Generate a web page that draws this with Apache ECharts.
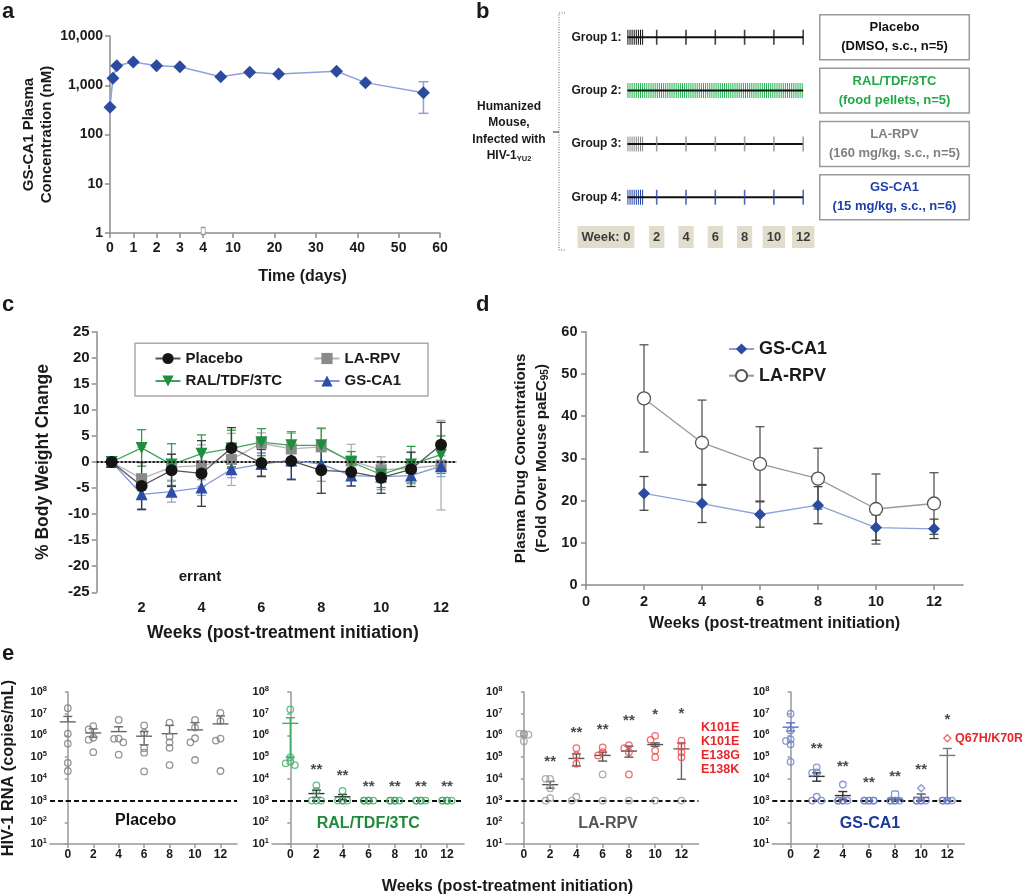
<!DOCTYPE html>
<html><head><meta charset="utf-8">
<script src="https://cdn.jsdelivr.net/npm/echarts@6/dist/echarts.min.js"></script>
<style>html,body{margin:0;padding:0;background:#fff}#c{width:1022px;height:895px}</style>
</head><body><div id="c"></div><script>
// ================= DATA =================
// ---- panel a : GS-CA1 plasma PK (log scale, broken x axis)
const aDays = [0, 0.125, 0.29, 1, 2, 3, 7, 14, 21, 35, 42, 56];
const aConc = [357, 1380, 2490, 2965, 2490, 2380, 1490, 1830, 1690, 1920, 1130, 706];
const aErrDays = [56];
const aErrLow = [269];
const aErrHigh = [1180];
const aXTickLabels = [0, 1, 2, 3, 4, 10, 20, 30, 40, 50, 60];
const aYTickLabels = [1, 10, 100, 1000, 10000];

// ---- panel b : study design
const bGroups = ['Group 1:', 'Group 2:', 'Group 3:', 'Group 4:'];
const bTreatments = [
  ['Placebo', '(DMSO, s.c., n=5)'],
  ['RAL/TDF/3TC', '(food pellets, n=5)'],
  ['LA-RPV', '(160 mg/kg, s.c., n=5)'],
  ['GS-CA1', '(15 mg/kg, s.c., n=6)']
];
const bLoadingWeeks = [0, 1.1];
const bPelletWeeks = [0, 12];
const bTimelineWeeks = [0, 12];
const bInjectionWeeks = [2, 4, 6, 8, 10, 12];
const bWeekTicks = [0, 2, 4, 6, 8, 10, 12];
const bWeekLabels = ['Week: 0', '2', '4', '6', '8', '10', '12'];

// ---- panel c : % body weight change
const cWeeks = [1, 2, 3, 4, 5, 6, 7, 8, 9, 10, 11, 12];
const cPlacebo    = [0, -4.6, -1.6, -2.2, 2.7, -0.2, 0.2, -1.6, -1.9, -3.0, -1.4, 3.3];
const cPlaceboErr = [0, 4.5, 3.1, 6.3, 3.9, 2.6, 3.6, 4.4, 2.7, 3.0, 3.3, 4.3];
const cRal        = [0, 2.7, -0.5, 1.6, 2.6, 3.8, 3.2, 3.2, 0.0, -2.4, -0.5, 1.4];
const cRalErr     = [0, 3.5, 4.0, 3.6, 3.5, 2.6, 2.6, 3.3, 2.0, 2.5, 3.5, 3.6];
const cLaRpv      = [0, -3.2, -1.0, -0.7, 0.5, 3.6, 2.5, 2.9, 0.2, -1.5, -1.2, -0.6];
const cLaRpvErr   = [0, 6.0, 2.5, 4.0, 5.0, 2.0, 3.0, 3.5, 3.2, 2.5, 3.0, 8.6];
const cGsCa1      = [0, -6.2, -5.7, -4.9, -1.4, -0.4, 0.3, -0.4, -2.6, -2.8, -2.6, -0.8];
const cGsCa1Err   = [0, 2.8, 2.0, 1.5, 1.6, 2.2, 3.5, 3.3, 2.0, 2.5, 1.5, 2.0];
const cXTicks = [2, 4, 6, 8, 10, 12];

// ---- panel d : plasma drug concentrations (fold over paEC95)
const dWeeks = [2, 4, 6, 8, 10, 12];
const dGsCa1    = [21.7, 19.3, 16.7, 18.9, 13.6, 13.3];
const dGsCa1Err = [4.0, 4.5, 3.0, 4.4, 3.0, 2.3];
const dLaRpv    = [44.2, 33.7, 28.7, 25.2, 18.0, 19.3];
const dLaRpvErr = [12.7, 10.1, 8.8, 7.2, 8.3, 7.3];
const dXTicks = [0, 2, 4, 6, 8, 10, 12];

// ---- panel e : HIV-1 RNA (copies/mL)
const eWeeks = [0, 2, 4, 6, 8, 10, 12];
const eLimit = 1000;
const ePlaceboPts = [
  [1.8e7, 1.2e6, 4.2e5, 5.5e4, 2.3e4],
  [2.7e6, 1.9e6, 7.8e5, 6.4e5, 1.7e5],
  [5.2e6, 7.2e5, 7.0e5, 4.8e5, 1.3e5],
  [2.9e6, 1.3e6, 2.6e5, 1.6e5, 2.2e4],
  [3.9e6, 9.0e5, 4.8e5, 2.7e5, 4.3e4],
  [5.2e6, 2.3e6, 7.4e5, 4.8e5, 7.4e4],
  [1.1e7, 4.6e6, 7.2e5, 5.8e5, 2.3e4]
];
const ePlaceboMean = [4.2e6, 1.3e6, 1.5e6, 9.2e5, 1.2e6, 1.8e6, 3.4e6];
const ePlaceboHigh = [7.5e6, 2.0e6, 2.5e6, 1.5e6, 2.9e6, 3.9e6, 7.9e6];
const ePlaceboLow  = [4.2e6, 8.3e5, 1.5e6, 3.7e5, 1.2e6, 1.8e6, 3.4e6];

const eRalPts = [
  [1.6e7, 9.8e4, 6.2e4, 5.2e4, 4.3e4],
  [5.0e3, 2.8e3, 1e3, 1e3, 1e3],
  [2.8e3, 1e3, 1e3, 1e3, 1e3],
  [1e3, 1e3, 1e3, 1e3, 1e3],
  [1e3, 1e3, 1e3, 1e3, 1e3],
  [1e3, 1e3, 1e3, 1e3, 1e3],
  [1e3, 1e3, 1e3, 1e3, 1e3]
];
const eRalMean = [3.6e6, 2.1e3, 1.5e3, null, null, null, null];
const eRalHigh = [6.5e6, 3.0e3, 1.9e3, null, null, null, null];
const eRalLow  = [1.0e5, 1.4e3, 1.1e3, null, null, null, null];
const eRalStars = ['', '**', '**', '**', '**', '**', '**'];
const eRalStarY = [null, 3.6e4, 1.8e4, 6.2e3, 6.2e3, 6.2e3, 6.2e3];

const eLaRpvPts = [
  [1.2e6, 1.2e6, 1.1e6, 1.1e6, 5.4e5],
  [1.0e4, 1.0e4, 3.7e3, 1.3e3, 1e3],
  [2.6e5, 1.2e5, 5.0e4, 1.5e3, 1e3],
  [2.8e5, 1.7e5, 1.2e5, 1.6e4, 1e3],
  [3.6e5, 2.6e5, 1.7e5, 1.6e4, 1e3],
  [9.6e5, 6.3e5, 2.0e5, 1.0e5, 1e3],
  [5.8e5, 3.1e5, 1.7e5, 1.0e5, 1e3]
];
const eLaRpvResistant = [0, 0, 3, 3, 4, 4, 4];
const eLaRpvMean = [null, 5.4e3, 8.7e4, 1.2e5, 1.9e5, 3.8e5, 2.4e5];
const eLaRpvHigh = [null, 7.6e3, 1.4e5, 1.7e5, 3.2e5, 4.5e5, 4.5e5];
const eLaRpvLow  = [null, 3.7e3, 3.9e4, 6.6e4, 1.0e5, 3.2e5, 9.6e3];
const eLaRpvStars = ['', '**', '**', '**', '**', '*', '*'];
const eLaRpvStarY = [null, 8.1e4, 1.8e6, 2.5e6, 6.2e6, 1.2e7, 1.3e7];
const eLaRpvMutations = ['K101E', 'K101E', 'E138G', 'E138K'];

const eGsCa1Pts = [
  [1.0e7, 1.7e6, 6.6e5, 5.6e5, 3.9e5, 6.1e4],
  [3.4e4, 2.0e4, 1.9e4, 1.5e3, 1e3, 1e3],
  [5.5e3, 1e3, 1e3, 1e3, 1e3, 1e3],
  [1e3, 1e3, 1e3, 1e3, 1e3, 1e3],
  [1.9e3, 1e3, 1e3, 1e3, 1e3, 1e3],
  [3.7e3, 1e3, 1e3, 1e3, 1e3, 1e3],
  [7.4e5, 1e3, 1e3, 1e3, 1e3, 1e3]
];
const eGsCa1Resistant = [0, 0, 0, 0, 0, 0, 1];
const eGsCa1Mean = [2.4e6, 1.3e4, 1.7e3, null, 1.15e3, 1.4e3, 1.2e5];
const eGsCa1High = [3.8e6, 1.9e4, 2.6e3, null, 1.3e3, 2.0e3, 2.5e5];
const eGsCa1Low  = [1.6e6, 7.8e3, 1.1e3, null, 1.0e3, 1.0e3, 1.0e3];
const eGsCa1Stars = ['', '**', '**', '**', '**', '**', '*'];
const eGsCa1StarY = [null, 3.3e5, 4.8e4, 8.8e3, 1.7e4, 3.6e4, 7.2e6];
const eGsCa1Mutation = 'Q67H/K70R';
const eNames = ['Placebo', 'RAL/TDF/3TC', 'LA-RPV', 'GS-CA1'];

// ================= STYLE / LAYOUT =================
const FONT = '"Liberation Sans", Arial, Helvetica, sans-serif';
const INK = '#1a1a1a';
const AX = '#8c8c8c';
const RED = '#E8262A';

// broken x-axis for panel a (0-4 days expanded, then compressed)
const A_BREAK = 4, A_SEG2_ORIGIN = 2.75, A_SEG2_SCALE = 4.14 / 23.3;
const aX = d => d <= A_BREAK ? d : A_BREAK + (d - A_SEG2_ORIGIN) * A_SEG2_SCALE;
const aLabel = v => { const t = aXTickLabels.find(t => Math.abs(aX(t) - v) < 1e-6); return t === undefined ? '' : String(t); };

function line(c, w) { return { show: true, lineStyle: { color: c || AX, width: w || 1.5 } }; }
function tick(custom, len, c) { const t = { show: true, length: len || 5, lineStyle: { color: c || AX, width: 1.5 } }; if (custom) t.customValues = custom; return t; }
function txt(size, extra) { return Object.assign({ fontSize: size, fontWeight: 'bold', color: INK, fontFamily: FONT }, extra || {}); }

function errRender(cap, width) {
  return function (params, api) {
    const x = api.value(0);
    const lo = api.coord([x, api.value(1)]);
    const hi = api.coord([x, api.value(2)]);
    const st = { stroke: api.visual('color'), lineWidth: width };
    const h = cap / 2;
    return { type: 'group', children: [
      { type: 'line', shape: { x1: lo[0], y1: lo[1], x2: hi[0], y2: hi[1] }, style: st },
      { type: 'line', shape: { x1: lo[0] - h, y1: lo[1], x2: lo[0] + h, y2: lo[1] }, style: st },
      { type: 'line', shape: { x1: hi[0] - h, y1: hi[1], x2: hi[0] + h, y2: hi[1] }, style: st }
    ] };
  };
}
function errSeries(xi, yi, data, color, cap, width, z) {
  return { type: 'custom', xAxisIndex: xi, yAxisIndex: yi, data, itemStyle: { color },
    renderItem: errRender(cap, width || 1.3), encode: { x: 0, y: [1, 2] }, z: z || 1, silent: true };
}

const grid = [], xAxis = [], yAxis = [], series = [], graphic = [];

// ---------------- panel a ----------------
grid.push({ left: 110, top: 36, width: 330, height: 197 });
xAxis.push({ gridIndex: 0, type: 'value', min: 0, max: aX(60), axisLine: line(), splitLine: { show: false },
  axisTick: tick(aXTickLabels.map(aX)),
  axisLabel: txt(14, { customValues: aXTickLabels.map(aX), formatter: aLabel, margin: 8 }),
  name: 'Time (days)', nameLocation: 'middle', nameGap: 36, nameTextStyle: txt(16, { padding: [0, 0, 0, 55] }) });
yAxis.push({ gridIndex: 0, type: 'log', logBase: 10, min: 1, max: 10000, axisLine: line(), axisTick: tick(), splitLine: { show: false },
  axisLabel: txt(14, { margin: 7, formatter: v => Math.round(v).toLocaleString('en-US') }),
  name: 'GS-CA1 Plasma\nConcentration (nM)', nameLocation: 'middle', nameGap: 51,
  nameTextStyle: txt(15, { lineHeight: 18.5 }) });
series.push(errSeries(0, 0, aErrDays.map((d, i) => [aX(d), aErrLow[i], aErrHigh[i]]), '#8EA2DA', 10, 1.5));
series.push({ type: 'line', xAxisIndex: 0, yAxisIndex: 0, data: aDays.map((d, i) => [aX(d), aConc[i]]),
  symbol: 'diamond', symbolSize: 13, itemStyle: { color: '#2B4BA0' }, lineStyle: { color: '#8EA2DA', width: 1.5 }, z: 3,
  markPoint: { silent: true, symbol: 'rect', symbolSize: [4, 7], symbolOffset: [0, -2], itemStyle: { color: '#fff', borderColor: '#999', borderWidth: 1 },
    label: { show: false }, data: [{ coord: [aX(A_BREAK), 1] }] } });

// ---------------- panel b ----------------
const bColors = ['#111111', '#22B14C', '#8a8a8a', '#2445A8'];
const bTextColors = ['#111111', '#1FA845', '#808080', '#1F3FA8'];
const B_WEEK_ROW = 4.745;
grid.push({ left: 627.4, top: 10.6, width: 175.8, height: 240 });
xAxis.push({ gridIndex: 1, type: 'value', min: 0, max: 12, show: false });
yAxis.push({ gridIndex: 1, type: 'value', min: 0.5, max: 5, inverse: true, axisLine: { show: false }, axisTick: { show: false }, splitLine: { show: false },
  axisLabel: txt(12, { customValues: [1, 2, 3, 4], formatter: v => bGroups[Math.round(v) - 1] || '', margin: 6 }) });
yAxis.push({ gridIndex: 1, type: 'value', position: 'right', min: 0.5, max: 5, inverse: true, axisLine: { show: false }, axisTick: { show: false }, splitLine: { show: false },
  axisLabel: txt(13, { customValues: [1, 2, 3, 4], formatter: v => (bTreatments[Math.round(v) - 1] || []).join('\n'),
    color: v => bTextColors[Math.round(v) - 1], margin: 91.3, align: 'center', width: 140, lineHeight: 18.7,
    padding: [3, 4, 3, 4], borderColor: '#9a9a9a', borderWidth: 1.5, backgroundColor: '#fff' }) });
bGroups.forEach((g, i) => {
  const row = i + 1;
  const dense = i === 1 ? bPelletWeeks : bLoadingWeeks;
  series.push({ type: 'line', xAxisIndex: 1, yAxisIndex: 1, data: dense.map(w => [w, row]), symbol: 'none', silent: true, z: 2,
    lineStyle: { color: bColors[i], width: 15, type: [1, 1.1], cap: 'butt' } });
  series.push({ type: 'line', xAxisIndex: 1, yAxisIndex: 1, data: bTimelineWeeks.map(w => [w, row]), symbol: 'none', silent: true, z: 3,
    lineStyle: { color: '#111', width: 2 } });
  if (i !== 1) series.push({ type: 'scatter', xAxisIndex: 1, yAxisIndex: 1, data: bInjectionWeeks.map(w => [w, row]), symbol: 'rect',
    symbolSize: [1.6, 15], itemStyle: { color: bColors[i] }, z: 4, silent: true, clip: false });
});
series.push({ type: 'scatter', xAxisIndex: 1, yAxisIndex: 1, clip: false, silent: true, symbolSize: 0, z: 5,
  data: bWeekTicks.map((w, k) => ({ name: bWeekLabels[k], value: [w, B_WEEK_ROW], label: k === 0 ? { offset: [-21.4, 0] } : undefined })),
  label: txt(13, { show: true, position: 'inside', formatter: '{b}', backgroundColor: '#D8D4C0', padding: [5, 4, 4, 4], color: '#111' }) });

// ---------------- panel c ----------------
grid.push({ left: 96.7, top: 331.7, width: 359.3, height: 260.6 });
xAxis.push({ gridIndex: 2, type: 'value', min: 0.5, max: 12.5, axisLine: line(), splitLine: { show: false }, axisTick: tick(cXTicks),
  axisLabel: txt(14.5, { customValues: cXTicks, margin: 8 }),
  name: 'Weeks (post-treatment initiation)', nameLocation: 'middle', nameGap: 32, nameTextStyle: txt(17.5, { padding: [0, 0, 0, 13] }) });
yAxis.push({ gridIndex: 2, type: 'value', min: -25, max: 25, interval: 5, axisLine: line(), axisTick: tick(), splitLine: { show: false },
  axisLabel: txt(15, { margin: 7 }),
  name: '% Body Weight Change', nameLocation: 'middle', nameGap: 44.5, nameTextStyle: txt(17.5) });
const cDefs = [
  { name: 'LA-RPV', mean: cLaRpv, err: cLaRpvErr, symbol: 'rect', size: 11, rot: 0, fill: '#8A8A8A', line: '#B5B5B5', bar: '#B0B0B0', z: 3 },
  { name: 'RAL/TDF/3TC', mean: cRal, err: cRalErr, symbol: 'triangle', size: 12, rot: 180, fill: '#1E8E3E', line: '#3DA65C', bar: '#2E9E4A', z: 4 },
  { name: 'GS-CA1', mean: cGsCa1, err: cGsCa1Err, symbol: 'triangle', size: 12, rot: 0, fill: '#2C4CA8', line: '#8196D8', bar: '#90A3DE', z: 5 },
  { name: 'Placebo', mean: cPlacebo, err: cPlaceboErr, symbol: 'circle', size: 12, rot: 0, fill: '#151515', line: '#555555', bar: '#3a3a3a', z: 6 }
];
cDefs.forEach(d => {
  series.push(errSeries(2, 3, cWeeks.map((w, i) => [w, d.mean[i] - d.err[i], d.mean[i] + d.err[i]]).filter((r, i) => d.err[i] > 0), d.bar, 9, 1.3, 1));
});
cDefs.forEach(d => {
  series.push({ type: 'line', name: d.name, xAxisIndex: 2, yAxisIndex: 3, data: cWeeks.map((w, i) => [w, d.mean[i]]),
    symbol: d.symbol, symbolSize: d.size, symbolRotate: d.rot, itemStyle: { color: d.fill }, lineStyle: { color: d.line, width: 1.3 }, z: d.z,
    markLine: d.name === 'Placebo' ? { silent: true, symbol: ['none', 'none'], label: { show: false },
      lineStyle: { color: '#111', width: 2, type: [2, 2] }, data: [{ yAxis: 0 }] } : undefined });
});

// ---------------- panel d ----------------
grid.push({ left: 586, top: 331.7, width: 377, height: 253.3 });
xAxis.push({ gridIndex: 3, type: 'value', min: 0, max: 13, axisLine: line(), splitLine: { show: false }, axisTick: tick(dXTicks),
  axisLabel: txt(14.5, { customValues: dXTicks, margin: 9 }),
  name: 'Weeks (post-treatment initiation)', nameLocation: 'middle', nameGap: 31, nameTextStyle: txt(16.2) });
yAxis.push({ gridIndex: 3, type: 'value', min: 0, max: 60, interval: 10, axisLine: line(), axisTick: tick(), splitLine: { show: false },
  axisLabel: txt(14.5, { margin: 8.5 }),
  name: '{t|Plasma Drug Concentrations}\n{t|(Fold Over Mouse paEC}{u|95}{t|)}', nameLocation: 'middle', nameGap: 34,
  nameTextStyle: { rich: { t: txt(15.3, { lineHeight: 21 }), u: txt(10, { lineHeight: 21, padding: [7, 0, 0, 0] }) } } });
series.push(errSeries(3, 4, dWeeks.map((w, i) => [w, dLaRpv[i] - dLaRpvErr[i], dLaRpv[i] + dLaRpvErr[i]]), '#555', 9, 1.3, 1));
series.push(errSeries(3, 4, dWeeks.map((w, i) => [w, dGsCa1[i] - dGsCa1Err[i], dGsCa1[i] + dGsCa1Err[i]]), '#444', 9, 1.3, 1));
series.push({ type: 'line', name: 'd:LA-RPV', xAxisIndex: 3, yAxisIndex: 4, data: dWeeks.map((w, i) => [w, dLaRpv[i]]),
  symbol: 'circle', symbolSize: 13, itemStyle: { color: '#fff', borderColor: '#555', borderWidth: 1.3 }, lineStyle: { color: '#999', width: 1.3 }, z: 3 });
series.push({ type: 'line', name: 'd:GS-CA1', xAxisIndex: 3, yAxisIndex: 4, data: dWeeks.map((w, i) => [w, dGsCa1[i]]),
  symbol: 'diamond', symbolSize: 12, itemStyle: { color: '#2B4BA0' }, lineStyle: { color: '#8EA2DA', width: 1.3 }, z: 4 });

// ---------------- panel e ----------------
const eGrids = [{ left: 49, width: 188 }, { left: 272, width: 192 }, { left: 505.5, width: 193 }, { left: 772.3, width: 192 }];
const E_TOP = 692, E_H = 152, E_PX_DEC = E_H / 7;
const ePanels = [
  { pts: ePlaceboPts, mean: ePlaceboMean, low: ePlaceboLow, high: ePlaceboHigh, color: '#7a7a7a', red: null,
    bar: ['#666', '#666', '#666', '#666', '#666', '#666', '#666'] },
  { pts: eRalPts, mean: eRalMean, low: eRalLow, high: eRalHigh, color: '#3DAE63', red: null, stars: eRalStars, starY: eRalStarY,
    bar: ['#3DAE63', '#333', '#333', '#333', '#333', '#333', '#333'] },
  { pts: eLaRpvPts, mean: eLaRpvMean, low: eLaRpvLow, high: eLaRpvHigh, color: '#9a9a9a', red: eLaRpvResistant, stars: eLaRpvStars, starY: eLaRpvStarY,
    bar: ['#555', '#555', '#555', '#555', '#555', '#555', '#666'] },
  { pts: eGsCa1Pts, mean: eGsCa1Mean, low: eGsCa1Low, high: eGsCa1High, color: '#6C80CC', red: eGsCa1Resistant, stars: eGsCa1Stars, starY: eGsCa1StarY,
    shapes: ['circle', 'circle', 'circle', 'circle', 'roundRect', 'diamond', 'diamond'],
    bar: ['#5B70C4', '#333', '#333', '#333', '#555', '#555', '#777'] }
];
// simple beeswarm layout (horizontal symbol offsets, pixels)
function swarm(vals) {
  const placed = [], step = 4.6, near = 4.2;
  return vals.map(v => {
    const y = Math.log10(v) * E_PX_DEC;
    let best = 0, bestHits = Infinity;
    [0, -step, step].forEach(c => {
      const hits = placed.filter(p => Math.hypot(p.x - c, p.y - y) < near).length;
      if (hits < bestHits) { bestHits = hits; best = c; }
    });
    placed.push({ x: best, y });
    return best;
  });
}
function eBarRender(params, api) {
  const x = api.value(0);
  const m = api.coord([x, api.value(1)]);
  const lo = api.coord([x, api.value(2)]);
  const hi = api.coord([x, api.value(3)]);
  const st = { stroke: api.visual('color'), lineWidth: 1.4 };
  const ch = [
    { type: 'line', shape: { x1: m[0] - 8, y1: m[1], x2: m[0] + 8, y2: m[1] }, style: st },
    { type: 'line', shape: { x1: lo[0], y1: lo[1], x2: hi[0], y2: hi[1] }, style: st }
  ];
  if (Math.abs(hi[1] - m[1]) > 0.5) ch.push({ type: 'line', shape: { x1: hi[0] - 4.5, y1: hi[1], x2: hi[0] + 4.5, y2: hi[1] }, style: st });
  if (Math.abs(lo[1] - m[1]) > 0.5) ch.push({ type: 'line', shape: { x1: lo[0] - 4.5, y1: lo[1], x2: lo[0] + 4.5, y2: lo[1] }, style: st });
  return { type: 'group', children: ch };
}
ePanels.forEach((p, pi) => {
  const gi = 4 + pi, xi = 4 + pi, yi = 5 + pi;
  grid.push({ left: eGrids[pi].left, width: eGrids[pi].width, top: E_TOP, height: E_H });
  xAxis.push({ gridIndex: gi, type: 'value', min: -1.4, max: 13.3, axisLine: line('#999'), splitLine: { show: false },
    axisTick: tick(eWeeks, 4, '#999'), axisLabel: txt(12, { customValues: eWeeks, margin: 5 }) });
  const ya = { gridIndex: gi, type: 'log', logBase: 10, min: 10, max: 1e8, axisLine: line('#999'), axisTick: tick(null, 3, '#999'), splitLine: { show: false },
    axisLabel: { margin: 3, formatter: v => '{b|10}{s|' + Math.round(Math.log10(v)) + '}',
      rich: { b: txt(11), s: txt(7.5, { padding: [0, 0, 6, 0] }) } } };
  if (pi === 0) Object.assign(ya, { name: 'HIV-1 RNA (copies/mL)', nameLocation: 'middle', nameGap: 33, nameTextStyle: txt(16.3) });
  yAxis.push(ya);
  const pts = [];
  p.pts.forEach((vals, k) => {
    const offs = swarm(vals);
    vals.forEach((v, j) => {
      const isRed = p.red && j < p.red[k];
      const shape = (p.shapes && j === 0 && p.shapes[k]) || 'circle';
      pts.push({ value: [eWeeks[k], v], symbol: shape, symbolSize: shape === 'circle' ? 6.5 : 7,
        symbolOffset: [offs[j], 0], itemStyle: { color: 'transparent', borderColor: isRed ? '#EE4848' : p.color, borderWidth: 1.3 } });
    });
  });
  series.push({ type: 'scatter', xAxisIndex: xi, yAxisIndex: yi, data: pts, z: 4, clip: false, silent: true,
    markLine: { silent: true, symbol: ['none', 'none'], label: { show: false }, z: 2,
      lineStyle: { color: '#111', width: 2, type: [5, 3] }, data: [{ yAxis: eLimit }] } });
  const bars = [];
  eWeeks.forEach((w, k) => { if (p.mean[k] != null) bars.push({ value: [w, p.mean[k], p.low[k], p.high[k]], itemStyle: { color: p.bar[k] } }); });
  series.push({ type: 'custom', xAxisIndex: xi, yAxisIndex: yi, data: bars, renderItem: eBarRender, encode: { x: 0, y: [1, 2, 3] }, z: 3, silent: true });
  if (p.stars) {
    series.push({ type: 'scatter', xAxisIndex: xi, yAxisIndex: yi, symbolSize: 0, silent: true, z: 5, clip: false,
      data: eWeeks.map((w, k) => p.stars[k] ? { name: p.stars[k], value: [w, p.starY[k]] } : null).filter(Boolean),
      label: txt(15, { show: true, position: 'inside', formatter: '{b}', offset: [0, 3] }) });
  }
});

// ---------------- legends ----------------
const legend = [
  { data: ['Placebo', 'RAL/TDF/3TC'], orient: 'vertical', left: 154.5, top: 351, itemGap: 7.5, itemWidth: 25, itemHeight: 14, padding: 0,
    selectedMode: false, textStyle: txt(15) },
  { data: ['LA-RPV', 'GS-CA1'], orient: 'vertical', left: 313.5, top: 351, itemGap: 7.5, itemWidth: 25, itemHeight: 14, padding: 0,
    selectedMode: false, textStyle: txt(15) },
  { data: ['d:GS-CA1', 'd:LA-RPV'], orient: 'vertical', left: 728, top: 340, itemGap: 8.7, itemWidth: 25, itemHeight: 14, padding: 0,
    selectedMode: false, textStyle: txt(18), formatter: n => n.slice(2) }
];

// ---------------- annotations ----------------
function gtext(x, y, text, size, color, align, vAlign, extra) {
  return Object.assign({ type: 'text', x, y, silent: true, z: 10,
    style: Object.assign({ text, fill: color || INK, fontSize: size, fontWeight: 'bold', fontFamily: FONT, align: align || 'center', verticalAlign: vAlign || 'middle' }, extra || {}) });
}
graphic.push(gtext(2, 23, 'a', 22, INK, 'left', 'bottom'));
graphic.push(gtext(476, 23, 'b', 22, INK, 'left', 'bottom'));
graphic.push(gtext(2, 316, 'c', 22, INK, 'left', 'bottom'));
graphic.push(gtext(476, 316, 'd', 22, INK, 'left', 'bottom'));
graphic.push(gtext(2, 665, 'e', 22, INK, 'left', 'bottom'));
graphic.push(gtext(509, 131.3, '{t|Humanized}\n{t|Mouse,}\n{t|Infected with}\n{t|HIV-1}{s|YU2}', 12, INK, 'center', 'middle', {
  rich: { t: { fontSize: 12, fontWeight: 'bold', fontFamily: FONT, fill: INK, lineHeight: 16.5 },
          s: { fontSize: 7.5, fontWeight: 'bold', fontFamily: FONT, fill: INK, lineHeight: 16.5, padding: [5, 0, 0, 0] } } }));
graphic.push({ type: 'polyline', silent: true, shape: { points: [[565, 13], [559, 13], [559, 250], [565, 250]] },
  style: { stroke: '#666', lineWidth: 1, lineDash: [1, 1.5], fill: null } });
graphic.push({ type: 'line', silent: true, shape: { x1: 553, y1: 132, x2: 559, y2: 132 }, style: { stroke: '#444', lineWidth: 1.2 } });
graphic.push({ type: 'rect', silent: true, shape: { x: 135, y: 343.3, width: 293, height: 52.7 }, style: { fill: 'none', stroke: '#aaa', lineWidth: 1.5 } });
graphic.push(gtext(200, 577, 'errant', 15));
graphic.push(gtext(145.7, 820.7, eNames[0], 16, '#111'));
graphic.push(gtext(368.3, 824, eNames[1], 16, '#1E8B3A'));
graphic.push(gtext(608, 824, eNames[2], 16, '#555'));
graphic.push(gtext(870, 824, eNames[3], 16, '#1C3A99'));
eLaRpvMutations.forEach((m, i) => graphic.push(gtext(701, 727.3 + i * 14, m, 12.5, RED, 'left')));
graphic.push(gtext(955, 738.3, eGsCa1Mutation, 12.5, RED, 'left'));
graphic.push(gtext(507.5, 887, 'Weeks (post-treatment initiation)', 16.2));

const chart = echarts.init(document.getElementById('c'), null, { renderer: 'canvas' });
chart.setOption({ animation: false, backgroundColor: '#fff', textStyle: { fontFamily: FONT, fontWeight: 'bold', color: INK },
  grid, xAxis, yAxis, legend, series, graphic });
</script></body></html>
